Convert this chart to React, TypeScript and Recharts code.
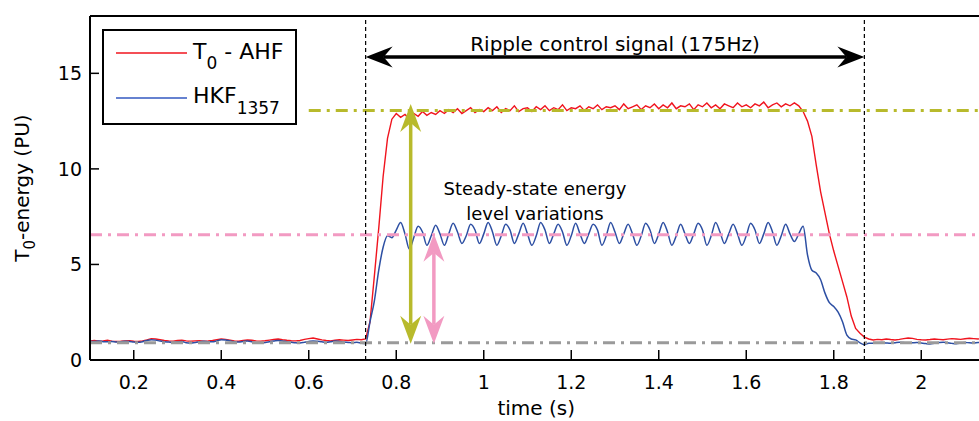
import React from 'react';
import { LineChart, Line, XAxis, YAxis, ReferenceLine, ReferenceDot, Label } from 'recharts';

// sampling grid of the recorded traces (s)
const T_START = 0.1;
const T_STEP = 0.01;

// T0 - AHF trace (PU)
const ahf = [
  1.00, 1.02, 0.98, 1.00, 1.03, 0.99, 0.97, 0.98, 1.00, 1.01,
  0.98, 0.97, 1.00, 1.05, 1.12, 1.10, 1.06, 1.02, 1.00, 0.99,
  1.02, 1.04, 1.00, 0.98, 1.00, 1.01, 0.99, 1.00, 1.02, 1.06,
  1.10, 1.08, 1.04, 1.00, 0.98, 1.02, 1.05, 1.03, 1.00, 0.99,
  1.01, 1.04, 1.07, 1.10, 1.06, 1.03, 1.01, 1.00, 1.02, 1.08,
  1.12, 1.15, 1.10, 1.05, 1.02, 1.00, 1.03, 1.06, 1.04, 1.02,
  1.05, 1.08, 1.06, 1.10, 2.0, 4.4, 6.9, 9.6, 11.6, 12.6,
  12.9, 12.7, 12.85, 12.6, 12.9, 12.75, 13.0, 12.8, 12.95, 12.85,
  13.05, 12.9, 13.1, 12.95, 13.15, 12.9, 13.05, 13.2, 12.95, 13.1,
  13.0, 13.2, 13.05, 13.25, 12.95, 13.15, 13.05, 13.3, 13.0, 13.15,
  13.2, 13.0, 13.25, 13.1, 13.3, 13.05, 13.2, 13.1, 13.35, 13.05,
  13.2, 13.15, 13.3, 13.05, 13.25, 13.15, 13.35, 13.1, 13.25, 13.2,
  13.3, 13.1, 13.4, 13.15, 13.25, 13.35, 13.1, 13.3, 13.2, 13.4,
  13.15, 13.35, 13.2, 13.45, 13.15, 13.3, 13.25, 13.4, 13.1, 13.35,
  13.25, 13.45, 13.2, 13.35, 13.15, 13.4, 13.3, 13.2, 13.45, 13.25,
  13.35, 13.2, 13.4, 13.3, 13.5, 13.2, 13.35, 13.45, 13.25, 13.4,
  13.3, 13.45, 13.3, 13.0, 12.5, 11.7, 10.2, 8.8, 7.7, 6.6,
  5.7, 4.9, 4.1, 3.3, 2.3, 1.65, 1.4, 1.2, 1.1, 1.05,
  1.08, 1.06, 1.10, 1.07, 1.05, 1.08, 1.12, 1.15, 1.13, 1.08,
  1.06, 1.05, 1.07, 1.10, 1.08, 1.06, 1.09, 1.12, 1.10, 1.08,
  1.11, 1.14, 1.12, 1.10, 1.12,
];

// HKF_1357 trace (PU)
const hkf = [
  0.98, 0.97, 1.00, 0.96, 0.95, 0.97, 0.94, 0.95, 0.98, 0.97,
  0.94, 0.93, 0.96, 1.02, 1.06, 1.04, 0.99, 0.96, 0.94, 0.92,
  0.95, 0.97, 0.90, 0.88, 0.92, 0.96, 0.98, 0.96, 0.95, 1.00,
  1.06, 1.05, 1.00, 0.96, 0.94, 0.97, 0.99, 0.95, 0.90, 0.88,
  0.92, 0.96, 0.99, 1.02, 1.00, 0.96, 0.93, 0.90, 0.89, 0.93,
  0.97, 1.00, 0.98, 0.95, 0.93, 0.96, 0.99, 0.97, 0.94, 0.92,
  0.90, 0.93, 0.88, 0.85, 2.0, 3.1, 4.7, 5.9, 6.5, 6.4,
  6.8, 7.2, 6.6, 5.8, 6.4, 7.0, 6.7, 6.0, 6.5, 7.05,
  6.6, 6.0, 6.6, 7.15, 6.7, 6.1, 6.5, 7.1, 6.8, 6.1,
  6.6, 7.2, 6.7, 6.0, 6.5, 7.1, 6.8, 6.1, 6.6, 7.15,
  6.6, 6.0, 6.5, 7.2, 6.8, 6.1, 6.6, 7.1, 6.7, 6.0,
  6.5, 7.15, 6.6, 6.1, 6.6, 7.1, 6.8, 6.0, 6.5, 7.2,
  6.7, 6.1, 6.6, 7.1, 6.6, 6.0, 6.5, 7.15, 6.8, 6.1,
  6.6, 7.2, 6.7, 6.0, 6.5, 7.1, 6.6, 6.1, 6.6, 7.15,
  6.8, 6.0, 6.5, 7.2, 6.7, 6.1, 6.6, 7.1, 6.6, 6.0,
  6.5, 7.15, 6.8, 6.1, 6.6, 7.2, 6.7, 6.0, 6.5, 7.1,
  6.6, 6.2, 6.6, 7.0, 5.5, 4.7, 4.55, 4.2, 3.5, 3.0,
  2.8, 2.5, 2.0, 1.3, 1.1, 1.05, 0.9, 0.8, 0.88, 0.88,
  0.90, 0.92, 0.89, 0.87, 0.90, 0.93, 0.91, 0.88, 0.90, 0.92,
  0.89, 0.86, 0.84, 0.88, 0.91, 0.93, 0.90, 0.87, 0.85, 0.88,
  0.92, 0.90, 0.89, 0.92, 0.91,
];

const xTicks = [0.2, 0.4, 0.6, 0.8, 1, 1.2, 1.4, 1.6, 1.8, 2];
const yTicks = [0, 5, 10, 15];

// annotation values
const signalOn = 0.73;
const signalOff = 1.87;
const signalArrowLevel = 15.85;
const ahfLevel = 13.05;
const ahfLevelFrom = 0.6;
const hkfLevel = 6.55;
const baseLevel = 0.9;
const ahfArrowAt = 0.833;
const ahfArrowTop = 13.4;
const hkfArrowAt = 0.886;
const hkfArrowTop = 6.6;
const arrowBottom = 0.85;

const time = ahf.map((_, i) => Math.round((T_START + i * T_STEP) * 1000) / 1000);
const data = time.map((t, i) => ({ t, ahf: ahf[i], hkf: hkf[i] }));

const FONT = '"DejaVu Sans", Verdana, sans-serif';
const OLIVE = '#b8ba2c';
const PINK = '#f29ac2';
const GREY = '#9a9a9a';
const RED = '#f0141e';
const BLUE = '#2d4fa3';

const vArrow = (color: string) => (props: any) => {
  const { x1, y1, y2 } = props;
  const x = x1;
  const top = Math.min(y1, y2);
  const bottom = Math.max(y1, y2);
  const hw = 10.5, hl = 28, notch = 9;
  return (
    <g>
      <line x1={x} y1={top + hl - notch} x2={x} y2={bottom - hl + notch} stroke={color} strokeWidth={3.5} />
      <polygon points={`${x},${top} ${x + hw},${top + hl} ${x},${top + hl - notch} ${x - hw},${top + hl}`} fill={color} />
      <polygon points={`${x},${bottom} ${x + hw},${bottom - hl} ${x},${bottom - hl + notch} ${x - hw},${bottom - hl}`} fill={color} />
    </g>
  );
};

const SignalArrow = (props: any) => {
  const { x1, x2, y1 } = props;
  const l = Math.min(x1, x2);
  const r = Math.max(x1, x2);
  const y = y1;
  const hl = 27, hw = 10.5, notch = 9;
  return (
    <g>
      <line x1={l + hl - notch} y1={y} x2={r - hl + notch} y2={y} stroke="#000" strokeWidth={3.5} />
      <polygon points={`${l},${y} ${l + hl},${y - hw} ${l + hl - notch},${y} ${l + hl},${y + hw}`} fill="#000" />
      <polygon points={`${r},${y} ${r - hl},${y - hw} ${r - hl + notch},${y} ${r - hl},${y + hw}`} fill="#000" />
      <text x={(l + r) / 2} y={y - 6} textAnchor="middle" fontFamily={FONT} fontSize={20} fill="#000">
        Ripple control signal (175Hz)
      </text>
    </g>
  );
};

const SteadyLabel = ({ viewBox }: any) => {
  const cx = viewBox.x + viewBox.width / 2;
  const cy = viewBox.y + viewBox.height / 2;
  return (
    <text textAnchor="middle" fontFamily={FONT} fontSize={18} fill="#000">
      <tspan x={cx} y={cy - 7}>Steady-state energy</tspan>
      <tspan x={cx} y={cy + 18}>level variations</tspan>
    </text>
  );
};

const XTitle = ({ viewBox }: any) => (
  <text x={viewBox.x + viewBox.width / 2} y={415} textAnchor="middle" fontFamily={FONT} fontSize={20} fill="#000">
    time (s)
  </text>
);

const YTitle = ({ viewBox }: any) => {
  const x = 29;
  const y = viewBox.y + viewBox.height / 2;
  return (
    <text x={x} y={y} transform={`rotate(-90 ${x} ${y})`} textAnchor="middle" fontFamily={FONT} fontSize={20} fill="#000">
      T<tspan dy={6} fontSize={15}>0</tspan>
      <tspan dy={-6}>-energy (PU)</tspan>
    </text>
  );
};

const LegendBox = () => (
  <svg width={197} height={98} style={{ position: 'absolute', left: 101, top: 28 }}>
    <rect x={2} y={2} width={193} height={94} fill="#fff" stroke="#000" strokeWidth={2} />
    <line x1={15} y1={25} x2={86} y2={25} stroke={RED} strokeWidth={1.5} />
    <text x={92} y={31} fontFamily={FONT} fontSize={22} fill="#000">
      T<tspan dy={10} fontSize={17}>0</tspan>
      <tspan dy={-10}> - AHF</tspan>
    </text>
    <line x1={15} y1={70} x2={86} y2={70} stroke="#3358c0" strokeWidth={1.5} />
    <text x={92} y={75} fontFamily={FONT} fontSize={22} fill="#000">
      HKF<tspan dy={11} fontSize={17}>1357</tspan>
    </text>
  </svg>
);

const tickStyle = { fontFamily: FONT, fontSize: 19, fill: '#000' };
const dashDot = '12 6 3 6';

export default function App() {
  return (
    <div style={{ position: 'absolute', left: 0, top: 0, width: 979, height: 421, overflow: 'hidden', background: '#fff' }}>
      <LineChart width={990} height={421} data={data} margin={{ top: 6, right: 7.5, bottom: 21, left: 20 }}>
        <XAxis
          xAxisId="top"
          orientation="top"
          dataKey="t"
          type="number"
          domain={[0.1, 2.14]}
          ticks={xTicks}
          allowDataOverflow
          height={10}
          tick={false}
          tickSize={-7}
          axisLine={{ stroke: '#000', strokeWidth: 2 }}
          tickLine={{ stroke: '#000', strokeWidth: 1.5 }}
        />
        <XAxis
          dataKey="t"
          type="number"
          domain={[0.1, 2.14]}
          ticks={xTicks}
          allowDataOverflow
          height={40}
          tickSize={-10}
          tickMargin={26}
          tick={tickStyle}
          tickFormatter={(v: number) => String(v)}
          axisLine={{ stroke: '#000', strokeWidth: 2 }}
          tickLine={{ stroke: '#000', strokeWidth: 1.5 }}
        >
          <Label content={XTitle} />
        </XAxis>
        <YAxis
          type="number"
          domain={[0, 18]}
          ticks={yTicks}
          allowDataOverflow
          width={70}
          tickSize={-9}
          tickMargin={17}
          tick={tickStyle}
          axisLine={{ stroke: '#000', strokeWidth: 2 }}
          tickLine={{ stroke: '#000', strokeWidth: 1.5 }}
        >
          <Label content={YTitle} />
        </YAxis>

        <Line dataKey="ahf" type="linear" stroke={RED} strokeWidth={1.4} dot={false} isAnimationActive={false} />
        <Line dataKey="hkf" type="monotone" stroke={BLUE} strokeWidth={1.5} dot={false} isAnimationActive={false} />

        <ReferenceLine y={baseLevel} stroke={GREY} strokeWidth={3} strokeDasharray={dashDot} />
        <ReferenceLine y={hkfLevel} stroke={PINK} strokeWidth={3} strokeDasharray={dashDot} />
        <ReferenceLine
          segment={[{ x: ahfLevelFrom, y: ahfLevel }, { x: 2.14, y: ahfLevel }]}
          stroke={OLIVE}
          strokeWidth={3}
          strokeDasharray={dashDot}
        />
        <ReferenceLine x={signalOn} stroke="#000" strokeWidth={1.2} strokeDasharray="4 3" />
        <ReferenceLine x={signalOff} stroke="#000" strokeWidth={1.2} strokeDasharray="4 3" />

        <ReferenceLine
          segment={[{ x: signalOn, y: signalArrowLevel }, { x: signalOff, y: signalArrowLevel }]}
          shape={SignalArrow}
        />
        <ReferenceLine
          segment={[{ x: ahfArrowAt, y: arrowBottom }, { x: ahfArrowAt, y: ahfArrowTop }]}
          shape={vArrow(OLIVE)}
        />
        <ReferenceLine
          segment={[{ x: hkfArrowAt, y: arrowBottom }, { x: hkfArrowAt, y: hkfArrowTop }]}
          shape={vArrow(PINK)}
        />
        <ReferenceDot x={1.117} y={8.26} r={0} fill="none" stroke="none">
          <Label content={SteadyLabel} />
        </ReferenceDot>
      </LineChart>
      <LegendBox />
    </div>
  );
}
